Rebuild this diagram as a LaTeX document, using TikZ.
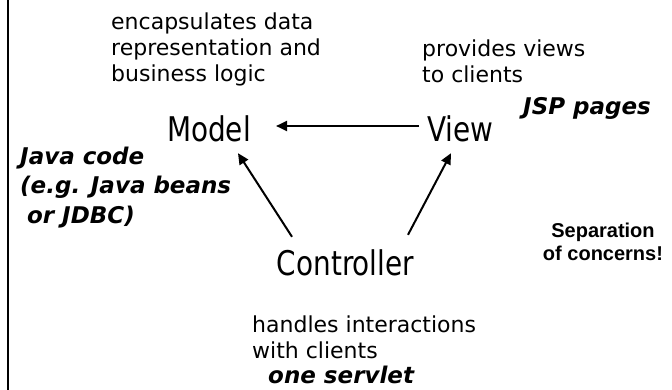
\documentclass[tikz,border=0pt]{standalone}
\usepackage{fontspec}
\setmainfont{DejaVu Sans}
\newfontfamily\labelfont[FakeStretch=0.82]{DejaVu Sans}
\newfontfamily\notefont{Liberation Sans}
\usetikzlibrary{arrows.meta}

\begin{document}
\begin{tikzpicture}[x=1pt, y=-1pt,
    part/.style={inner sep=0pt, text height=25pt, text depth=0pt, font=\labelfont\fontsize{34}{40}\selectfont},
    desc/.style={inner sep=0pt, align=left, font=\fontsize{22}{26}\selectfont},
    tech/.style={inner sep=0pt, align=left, font=\fontsize{23}{29.5}\selectfont\bfseries\itshape},
    note/.style={inner sep=0pt, align=center, font=\notefont\bfseries\fontsize{20}{22.5}\selectfont},
    link/.style={line width=2pt, -{Triangle[length=11pt,width=10pt]}}]
                \useasboundingbox (0,0) rectangle (672,390);
                \draw [line width=2.5pt] (8,0) to (8,390);

                \node [part, anchor=base] (model) at (209,142) {Model};
                \node [part, anchor=base] (view) at (460.5,142) {View};
                \node [part, anchor=base] (ctrl) at (345.5,275) {Controller};

                \draw [link] ([xshift=-8pt,yshift=3.5pt]view.west) to ([xshift=25pt,yshift=3.5pt]model.east);
                \draw [link] ([xshift=-53.5pt,yshift=13pt]ctrl.north) to ([xshift=29pt,yshift=-11pt]model.south);
                \draw [link] ([xshift=62.5pt,yshift=15pt]ctrl.north) to ([xshift=-9.5pt,yshift=-11pt]view.south);

                \node [desc, anchor=north west] (modeltext) at (111,12.5) {encapsulates data\\representation and\\business logic};
                \node [desc, anchor=north west] (viewtext) at (422,40) {provides views\\to clients};
                \node [desc, anchor=north west] (ctrltext) at (252,316) {handles interactions\\with clients};

                \node [tech, anchor=north west] (java) at (20,146.5) {Java code\\(e.g. Java beans\\\hspace*{0.3em}or JDBC)};
                \node [tech, anchor=base west] (jsp) at (523,115) {JSP pages};
                \node [tech, anchor=base west] (servlet) at (268,383) {one servlet};

                \node [note, anchor=north] (sep) at (603,223) {Separation\\of concerns!};
            \end{tikzpicture}
\end{document}
